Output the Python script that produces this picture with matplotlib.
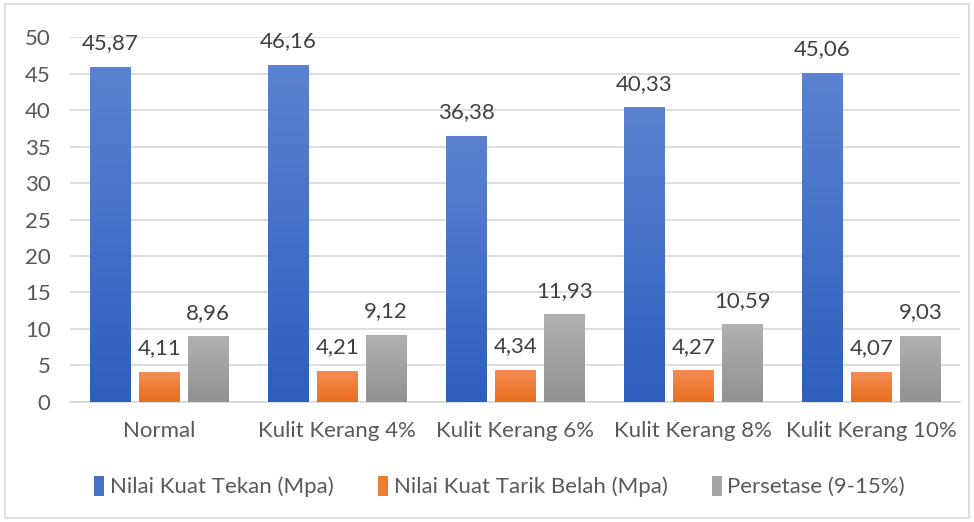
import numpy as np
import matplotlib
matplotlib.use("Agg")
import matplotlib.pyplot as plt
from matplotlib.colors import LinearSegmentedColormap
from matplotlib.patches import Rectangle

categories = ["Normal", "Kulit Kerang 4%", "Kulit Kerang 6%", "Kulit Kerang 8%", "Kulit Kerang 10%"]
tekan = [45.87, 46.16, 36.38, 40.33, 45.06]
tarik = [4.11, 4.21, 4.34, 4.27, 4.07]
persen = [8.96, 9.12, 11.93, 10.59, 9.03]
series_names = ["Nilai Kuat Tekan (Mpa)", "Nilai Kuat Tarik Belah (Mpa)", "Persetase (9-15%)"]

series = [tekan, tarik, persen]
grads = [("#5b82d0", "#2e5fbe"), ("#f38d55", "#e96e1c"), ("#b0b0b0", "#929292")]
solid = ["#4472c4", "#ed7d31", "#a5a5a5"]

plt.rcParams['font.family'] = ['Lato', 'DejaVu Sans']
txt = "#595959"
fs = 16

fig = plt.figure(figsize=(9.74, 5.22), dpi=100)
fig.patches.append(Rectangle((0.005, 0.008), 0.99, 0.984, transform=fig.transFigure,
                             fill=False, edgecolor="#d9d9d9", linewidth=1.2))
ax = fig.add_axes([0.072, 0.23, 0.914, 0.699])

x = np.arange(len(categories))
w = 0.225
offs = [-0.275, 0.0, 0.275]
ax.set_xlim(-0.5, len(categories) - 0.5)
ax.set_ylim(0, 50)

for s, vals in enumerate(series):
    cmap = LinearSegmentedColormap.from_list("g%d" % s, [grads[s][1], grads[s][0]])
    for i, v in enumerate(vals):
        xc = x[i] + offs[s]
        ax.add_patch(Rectangle((xc - w/2 + 0.006, 0), w, v - 0.15, facecolor="#000000",
                               alpha=0.12, edgecolor="none", zorder=2))
        grad = np.linspace(0, 1, 100).reshape(-1, 1)
        ax.imshow(grad, cmap=cmap, origin="lower", aspect="auto",
                  extent=(xc - w/2, xc + w/2, 0, v), zorder=3)
        ax.annotate(f"{v:.2f}".replace(".", ","), (xc, v), xytext=(0, 10),
                    textcoords="offset points", ha="center", va="bottom",
                    fontsize=fs, color="#404040", clip_on=False, zorder=5)

ax.set_xlim(-0.5, len(categories) - 0.5)
ax.set_ylim(0, 50)
ax.set_yticks(range(0, 51, 5))
ax.set_xticks(x)
ax.set_xticklabels(categories)
ax.tick_params(axis="both", length=0, labelsize=fs, colors=txt)
ax.tick_params(axis="x", pad=14)
ax.tick_params(axis="y", pad=14)
ax.grid(axis="y", color="#d9d9d9", linewidth=1.2, zorder=0)
ax.set_axisbelow(True)
for sp in ["top", "right", "left"]:
    ax.spines[sp].set_visible(False)
ax.spines["bottom"].set_color("#d9d9d9")
ax.spines["bottom"].set_linewidth(1.2)

handles = [Rectangle((0, 0), 1, 1, facecolor=c) for c in solid]
leg = fig.legend(handles, series_names, loc="center", bbox_to_anchor=(0.513, 0.068),
                 ncol=3, frameon=False, fontsize=fs, handlelength=0.45, handleheight=1.0,
                 handletextpad=0.25, columnspacing=2.0, labelcolor=txt)

fig.savefig("out.png", dpi=100)
